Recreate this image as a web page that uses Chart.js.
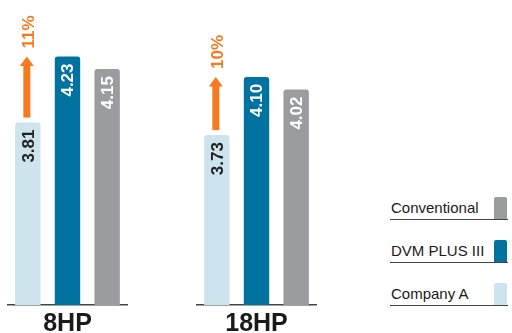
<!DOCTYPE html>
<html>
<head>
<meta charset="utf-8">
<script src="https://cdn.jsdelivr.net/npm/chart.js@4/dist/chart.umd.min.js"></script>
<style>
  html, body { margin:0; padding:0; background:#fff; }
  #wrap { position:relative; width:512px; height:333px; overflow:hidden; background:#fff; font-family:'Liberation Sans', Arial, sans-serif; }
  canvas { position:absolute; top:0; }
  .leg { position:absolute; left:390px; width:118px; height:24px; border-bottom:1.5px solid #444; }
  .leg span { position:absolute; left:1px; bottom:4px; font-size:15px; line-height:15px; color:#1a1a1a; white-space:nowrap; }
  .leg i { position:absolute; right:1px; bottom:0; width:13px; height:22px; border-radius:2px 2px 0 0; }
</style>
</head>
<body>
<div id="wrap">
  <canvas id="c0" width="135" height="350" style="left:0px"></canvas>
  <canvas id="c1" width="135" height="350" style="left:189px"></canvas>
</div>
<script>
const categories = ['8HP', '18HP'];
const seriesNames = ['Company A', 'DVM PLUS III', 'Conventional'];
const companyA = [3.81, 3.73];
const dvmPlusIII = [4.23, 4.10];
const conventional = [4.15, 4.02];
const increasePct = [11, 10];

const seriesValues = [companyA, dvmPlusIII, conventional];
const seriesColors = ['#cde4ef', '#00729f', '#9b9c9f'];
const labelColors = ['#222222', '#ffffff', '#ffffff'];
const orange = '#f47a20';
const FONT = "'Liberation Sans', Arial, sans-serif";

const annot = {
  id: 'annot',
  afterDatasetsDraw(chart, args, opts) {
    const ctx = chart.ctx;
    const ys = chart.scales.y;
    chart.data.datasets.forEach((ds, di) => {
      const meta = chart.getDatasetMeta(di);
      meta.data.forEach((bar, j) => {
        ctx.save();
        ctx.translate(bar.x, bar.y + 7);
        ctx.rotate(-Math.PI / 2);
        ctx.font = 'bold 17px ' + FONT;
        ctx.fillStyle = labelColors[di];
        ctx.textAlign = 'right';
        ctx.textBaseline = 'middle';
        ctx.fillText(ds.data[j].toFixed(2), 0, 1);
        ctx.restore();
      });
    });
    // increase arrow from Company A bar up to DVM PLUS III level
    const b0 = chart.getDatasetMeta(0).data[0];
    const x = b0.x - 1;
    const yTip = ys.getPixelForValue(chart.data.datasets[1].data[0]);
    const yBase = b0.y - 5;
    ctx.save();
    ctx.fillStyle = orange;
    ctx.fillRect(x - 3.5, yTip + 9, 7, yBase - (yTip + 9));
    ctx.beginPath();
    ctx.moveTo(x - 7, yTip + 9.5);
    ctx.lineTo(x + 7, yTip + 9.5);
    ctx.lineTo(x, yTip);
    ctx.closePath();
    ctx.fill();
    ctx.translate(x + 1, yTip - 8);
    ctx.rotate(-Math.PI / 2);
    ctx.font = 'bold 17px ' + FONT;
    ctx.textAlign = 'left';
    ctx.textBaseline = 'middle';
    ctx.fillText(opts.pct + '%', 0, 1);
    ctx.restore();
  }
};

categories.forEach((cat, i) => {
  new Chart(document.getElementById('c' + i), {
    type: 'bar',
    data: {
      labels: [cat],
      datasets: seriesNames.map((name, s) => ({
        label: name,
        data: [seriesValues[s][i]],
        backgroundColor: seriesColors[s],
        borderRadius: { topLeft: 3, topRight: 3, bottomLeft: 0, bottomRight: 0 },
        borderSkipped: false,
        categoryPercentage: 1,
        barPercentage: 0.64
      }))
    },
    options: {
      responsive: false,
      animation: false,
      layout: { padding: { left: 8, right: 8, top: 14, bottom: 7 } },
      plugins: { legend: { display: false }, tooltip: { enabled: false }, annot: { pct: increasePct[i] } },
      scales: {
        x: {
          grid: { display: false, drawTicks: false },
          border: { display: true, color: '#444', width: 1.5 },
          ticks: { padding: 4, color: '#1a1a1a', font: { family: FONT, size: 25, weight: 'bold' } }
        },
        y: { display: false, min: 2.65, max: 4.5 }
      }
    },
    plugins: [annot]
  });
});

// legend (reverse order, top to bottom)
const wrap = document.getElementById('wrap');
const legendBottoms = [219, 262, 305];
seriesNames.slice().reverse().forEach((name, k) => {
  const s = seriesNames.length - 1 - k;
  const d = document.createElement('div');
  d.className = 'leg';
  d.style.top = (legendBottoms[k] - 24) + 'px';
  const sp = document.createElement('span');
  sp.textContent = name;
  const sw = document.createElement('i');
  sw.style.background = seriesColors[s];
  d.appendChild(sp); d.appendChild(sw);
  wrap.appendChild(d);
});
</script>
</body>
</html>
